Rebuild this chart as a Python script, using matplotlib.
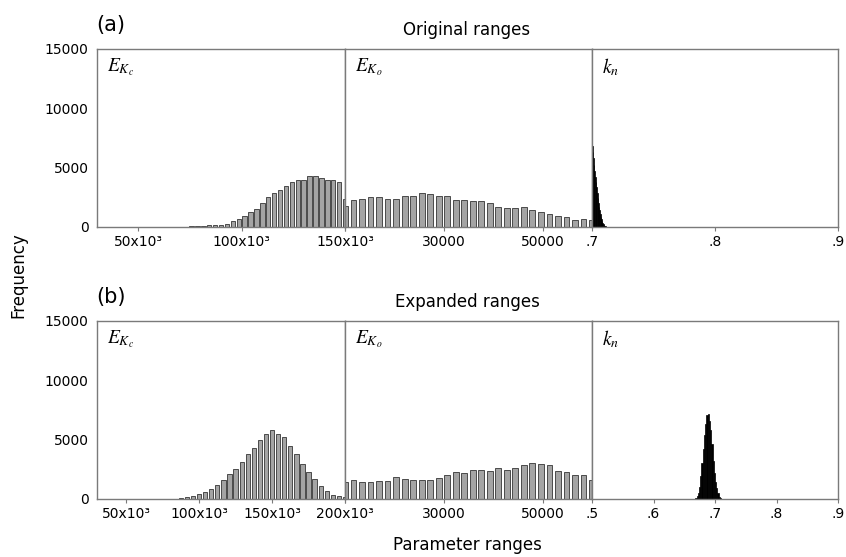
import numpy as np
import matplotlib
matplotlib.use("Agg")
import matplotlib.pyplot as plt

plt.rcParams['font.family'] = ['DejaVu Sans']

# ---------------- data ----------------
# (a) Original ranges
a_ekc_bin = 120000 / 42
a_ekc_first = 14
a_ekc_freq = [30, 30, 60, 60, 110, 140, 140, 200, 280, 480, 700, 955, 1265, 1545,
              1995, 2500, 2840, 3150, 3430, 3790, 3990, 3990, 4330, 4330, 4130,
              3930, 4000, 3820, 2390]
a_eko_bin = 50000 / 29
a_eko_freq = [1770, 2250, 2360, 2530, 2530, 2360, 2360, 2590, 2640, 2900, 2810,
              2590, 2590, 2300, 2250, 2190, 2190, 2050, 1690, 1630, 1630, 1690,
              1460, 1265, 1070, 955, 840, 620, 700, 620]
a_kn_bin = 0.0005
a_kn_freq = [6800, 6300, 5800, 5250, 4750, 4250, 3800, 3400, 2900, 2450, 2050, 1700,
             1400, 1100, 850, 650, 480, 350, 250, 160, 100, 50, 20]

# (b) Expanded ranges
b_ekc_bin = 50000 / 12
b_ekc_freq = [110, 170, 280, 450, 620, 815, 1210, 1570, 2100, 2500, 3090, 3790,
              4300, 4950, 5510, 5845, 5510, 5200, 4500, 3790, 2980, 2300, 1690,
              1070, 675, 365, 225, 170]
b_eko_bin = 50000 / 29
b_eko_freq = [1400, 1570, 1460, 1460, 1520, 1520, 1850, 1690, 1630, 1630, 1570,
              1740, 2050, 2250, 2160, 2470, 2420, 2360, 2640, 2420, 2640, 2870,
              3010, 2950, 2870, 2360, 2250, 2050, 2050, 1570]
b_kn_bin = 0.002
b_kn_start = 0.669
b_kn_freq = [100, 250, 500, 1000, 1900, 3000, 4200, 5400, 6300, 7100, 7200, 6600,
             5800, 4600, 3200, 2200, 1400, 950, 500, 200, 60]

panel_labels = [r'$E_{K_c}$', r'$E_{K_o}$', r'$k_n$']
yticks = [0, 5000, 10000, 15000]
yticklabels = ['0', '5000', '10000', '15000']

a_xlims = [(30000, 150000), (10000, 60000), (0.7, 0.9)]
a_xticks = [[50000, 100000, 150000], [10000, 30000, 50000], [0.7, 0.8, 0.9]]
a_xticklabels = [['50x10³', '100x10³', '150x10³'], ['', '30000', '50000'], ['.7', '.8', '.9']]

b_xlims = [(30000, 200000), (10000, 60000), (0.5, 0.9)]
b_xticks = [[50000, 100000, 150000, 200000], [10000, 30000, 50000], [0.5, 0.6, 0.7, 0.8, 0.9]]
b_xticklabels = [['50x10³', '100x10³', '150x10³', '200x10³'], ['', '30000', '50000'],
                 ['.5', '.6', '.7', '.8', '.9']]

# ---------------- figure ----------------
W, H = 846, 557
fig = plt.figure(figsize=(W / 100, H / 100), dpi=100)

xs_px = [(97, 345), (345, 592), (592, 838)]
rows_px = [(49, 227), (321, 499)]

gray_fill = '#a4a4a4'
gray_edge = '#4a4a4a'
spine_col = '#7a7a7a'


def make_axes(row):
    top, bot = rows_px[row]
    axs = []
    for (x0, x1) in xs_px:
        ax = fig.add_axes([x0 / W, 1 - bot / H, (x1 - x0) / W, (bot - top) / H])
        axs.append(ax)
    return axs


def style(ax, first, xlim, xt, xtl):
    ax.set_xlim(*xlim)
    ax.set_ylim(0, 15000)
    ax.set_xticks(xt)
    ax.set_xticklabels(xtl, fontsize=10)
    ax.tick_params(axis='x', direction='out', length=3, width=0.8, color=spine_col, pad=3)
    ax.set_yticks(yticks)
    if first:
        ax.set_yticklabels(yticklabels, fontsize=10)
        ax.tick_params(axis='y', length=0, pad=6)
    else:
        ax.set_yticklabels([])
        ax.tick_params(axis='y', length=0)
    for s in ax.spines.values():
        s.set_color(spine_col)
        s.set_linewidth(1.0)


for row in range(2):
    axs = make_axes(row)
    if row == 0:
        ekc_x = 30000 + (a_ekc_first + np.arange(len(a_ekc_freq))) * a_ekc_bin
        axs[0].bar(ekc_x, a_ekc_freq, width=a_ekc_bin * 0.75, color=gray_fill,
                   edgecolor=gray_edge, linewidth=0.7)
        eko_x = 10000 + np.arange(len(a_eko_freq)) * a_eko_bin
        axs[1].bar(eko_x, a_eko_freq, width=a_eko_bin * 0.68, color=gray_fill,
                   edgecolor=gray_edge, linewidth=0.7)
        kn_x = 0.7 + (np.arange(len(a_kn_freq)) + 0.5) * a_kn_bin
        axs[2].bar(kn_x, a_kn_freq, width=a_kn_bin, color='black', edgecolor='black',
                   linewidth=0.5)
        lims, xts, xtls = a_xlims, a_xticks, a_xticklabels
        tag, title = '(a)', 'Original ranges'
    else:
        ekc_x = 200000 - (len(b_ekc_freq) - 1 - np.arange(len(b_ekc_freq))) * b_ekc_bin
        axs[0].bar(ekc_x, b_ekc_freq, width=b_ekc_bin * 0.7, color=gray_fill,
                   edgecolor=gray_edge, linewidth=0.7)
        eko_x = 10000 + np.arange(len(b_eko_freq)) * b_eko_bin
        axs[1].bar(eko_x, b_eko_freq, width=b_eko_bin * 0.68, color=gray_fill,
                   edgecolor=gray_edge, linewidth=0.7)
        kn_x = b_kn_start + np.arange(len(b_kn_freq)) * b_kn_bin
        axs[2].bar(kn_x, b_kn_freq, width=b_kn_bin, color='black', edgecolor='black',
                   linewidth=0.5)
        lims, xts, xtls = b_xlims, b_xticks, b_xticklabels
        tag, title = '(b)', 'Expanded ranges'

    for i, ax in enumerate(axs):
        style(ax, i == 0, lims[i], xts[i], xtls[i])
        ax.text(0.04, 0.96, panel_labels[i], transform=ax.transAxes, ha='left', va='top',
                fontsize=14, math_fontfamily='stix')

    top = rows_px[row][0]
    fig.text(96 / W, 1 - (top - 24) / H, tag, fontsize=15, ha='left', va='center')
    fig.text(467 / W, 1 - (top - 19) / H, title, fontsize=12, ha='center', va='center')

fig.text(18 / W, 1 - 275 / H, 'Frequency', rotation=90, fontsize=12, ha='center', va='center')
fig.text(467 / W, 1 - 545 / H, 'Parameter ranges', fontsize=12, ha='center', va='center')

fig.savefig('out.png', dpi=100)
